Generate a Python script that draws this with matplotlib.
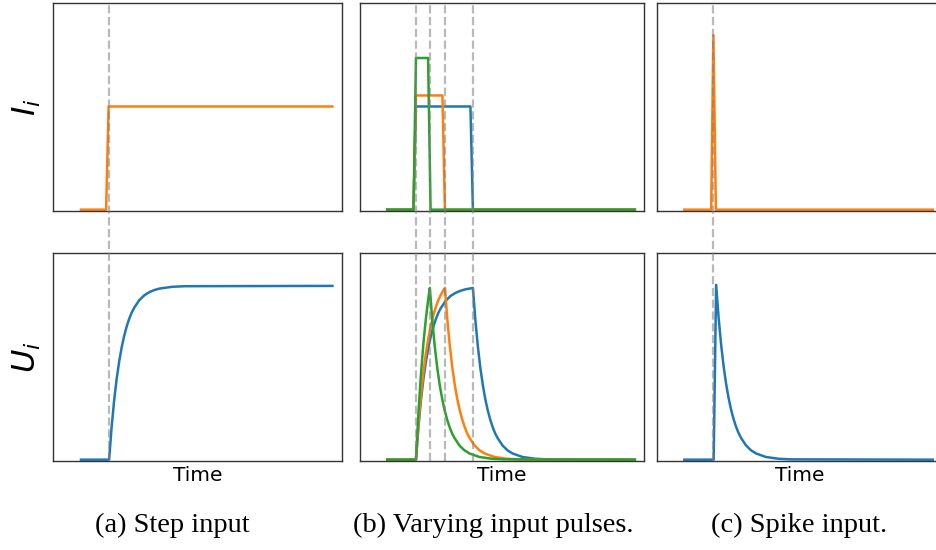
import numpy as np
import matplotlib
matplotlib.use('Agg')
import matplotlib.pyplot as plt

# (a) step input
step_it = [0, 10, 11, 100]
step_i = [0, 0, 1.0, 1.0]
step_ut = [0, 11.2, 12.2, 13.2, 14.2, 15.2, 16.2, 17.2, 18.2, 19.2, 20.2, 21.2,
           23.2, 25.2, 27.2, 29.2, 31.2, 36.2, 41.2, 100]
step_u = [0, 0, 0.316, 0.573, 0.781, 0.949, 1.087, 1.198, 1.289, 1.363, 1.423, 1.470,
          1.542, 1.589, 1.620, 1.640, 1.654, 1.671, 1.677, 1.68]
step_marks = [11.3]

# (b) varying input pulses
blue_it = [0, 10.6, 11.6, 33.6, 34.6, 100]
blue_i = [0, 0, 1.0, 1.0, 0, 0]
orange_it = [0, 10.6, 11.6, 22.3, 23.3, 100]
orange_i = [0, 0, 1.107, 1.107, 0, 0]
green_it = [0, 10.6, 11.6, 16.5, 17.5, 100]
green_i = [0, 0, 1.47, 1.47, 0, 0]

blue_ut = [0, 11.6, 12.6, 13.6, 14.6, 15.6, 16.6, 17.6, 18.6, 19.6, 20.6, 21.6,
           23.6, 25.6, 27.6, 29.6, 31.6, 34.6, 35.6, 36.6, 37.6, 38.6, 39.6, 40.6,
           41.6, 42.6, 43.6, 44.6, 46.6, 48.6, 50.6, 54.6, 59.6, 64.6, 100]
blue_u = [0, 0, 0.315, 0.570, 0.778, 0.945, 1.082, 1.193, 1.283, 1.357, 1.417, 1.464,
          1.536, 1.583, 1.613, 1.633, 1.647, 1.66, 1.348, 1.094, 0.888, 0.722, 0.586,
          0.476, 0.387, 0.314, 0.254, 0.208, 0.136, 0.090, 0.060, 0.026, 0.009, 0.003, 0]
orange_ut = [0, 11.6, 12.6, 13.6, 14.6, 15.6, 16.6, 17.6, 18.6, 19.6, 20.6, 21.6,
             22.6, 23.3, 24.3, 25.3, 26.3, 27.3, 28.3, 29.3, 30.3, 31.3, 32.3, 33.3,
             35.3, 37.3, 39.3, 43.3, 48.3, 53.3, 100]
orange_u = [0, 0, 0.342, 0.620, 0.845, 1.027, 1.176, 1.296, 1.394, 1.474, 1.540, 1.591,
            1.634, 1.66, 1.348, 1.094, 0.888, 0.722, 0.586, 0.476, 0.387, 0.314, 0.254,
            0.208, 0.136, 0.090, 0.060, 0.026, 0.009, 0.003, 0]
green_ut = [0, 11.6, 12.6, 13.6, 14.6, 15.6, 16.6, 17.2, 18.2, 19.2, 20.2, 21.2, 22.2,
            23.2, 24.2, 25.2, 26.2, 27.2, 29.2, 31.2, 33.2, 37.2, 42.2, 47.2, 100]
green_u = [0, 0, 0.453, 0.822, 1.121, 1.362, 1.559, 1.66, 1.348, 1.094, 0.888, 0.722,
           0.586, 0.476, 0.387, 0.314, 0.254, 0.208, 0.136, 0.090, 0.060, 0.026, 0.009,
           0.003, 0]
pulse_marks = [11.6, 17.2, 23.3, 34.6]

# (c) spike input
spike_it = [0, 10.8, 11.7, 12.7, 100]
spike_i = [0, 0, 1.69, 0, 0]
spike_ut = [0, 11.8, 12.8, 13.8, 14.8, 15.8, 16.8, 17.8, 18.8, 19.8, 20.8, 21.8, 22.8,
            24.8, 26.8, 28.8, 32.8, 37.8, 42.8, 100]
spike_u = [0, 0, 1.69, 1.372, 1.114, 0.904, 0.735, 0.597, 0.485, 0.394, 0.319, 0.259,
           0.211, 0.139, 0.091, 0.061, 0.026, 0.009, 0.003, 0]
spike_marks = [11.7]

captions = ['(a) Step input', '(b) Varying input pulses.', '(c) Spike input.']

fig = plt.figure(figsize=(9.36, 5.5), dpi=100)

# axes boxes in pixels: left, width
cols = [(53.3, 288.4), (360.0, 284.0), (657.0, 285.0)]
W, H = 936.0, 550.0
top_box = (210.7, 207.4)      # bottom edge (px from top), height
bot_box = (460.7, 207.9)

lw = 1.8
axes = []
for left, width in cols:
    ax_u = fig.add_axes([left / W, 1 - bot_box[0] / H, width / W, bot_box[1] / H])
    ax_i = fig.add_axes([left / W, 1 - top_box[0] / H, width / W, top_box[1] / H])
    ax_u.patch.set_alpha(0)
    ax_i.patch.set_alpha(0)
    for ax in (ax_i, ax_u):
        ax.set_xlim(-11, 103.7)
        ax.set_ylim(-0.01, 2.0)
        ax.set_xticks([])
        ax.set_yticks([])
        for s in ax.spines.values():
            s.set_color('0.2')
            s.set_linewidth(1.0)
    ax_u.set_xlabel('Time', fontsize=14.5, labelpad=4)
    axes.append((ax_i, ax_u))

# step
ax_i, ax_u = axes[0]
ax_i.plot(step_it, step_i, color='C1', lw=lw)
ax_u.plot(step_ut, step_u, color='C0', lw=lw)

# pulses
ax_i, ax_u = axes[1]
ax_i.plot(blue_it, blue_i, color='C0', lw=lw)
ax_i.plot(orange_it, orange_i, color='C1', lw=lw)
ax_i.plot(green_it, green_i, color='C2', lw=lw)
ax_u.plot(blue_ut, blue_u, color='C0', lw=lw)
ax_u.plot(orange_ut, orange_u, color='C1', lw=lw)
ax_u.plot(green_ut, green_u, color='C2', lw=lw)

# spike
ax_i, ax_u = axes[2]
ax_i.plot(spike_it, spike_i, color='C1', lw=lw)
ax_u.plot(spike_ut, spike_u, color='C0', lw=lw)

# dashed markers run through both rows
ymin = (top_box[0] - bot_box[0]) / top_box[1]
for (ax_i, ax_u), marks in zip(axes, [step_marks, pulse_marks, spike_marks]):
    for m in marks:
        ax_i.axvline(m, ymin=ymin, ymax=1, color='grey', alpha=0.55, lw=1.6,
                     ls='--', clip_on=False, zorder=5)

axes[0][0].set_ylabel('$I_i$', fontsize=23)
axes[0][1].set_ylabel('$U_i$', fontsize=23)
axes[0][0].yaxis.set_label_coords(-0.035, 0.5)
axes[0][1].yaxis.set_label_coords(-0.035, 0.5)

for x, txt in zip([172, 493, 799], captions):
    fig.text(x / W, 1 - 525 / H, txt, ha='center', va='center',
             fontsize=20.5, family='Liberation Serif')

plt.savefig('out.png', dpi=100)
